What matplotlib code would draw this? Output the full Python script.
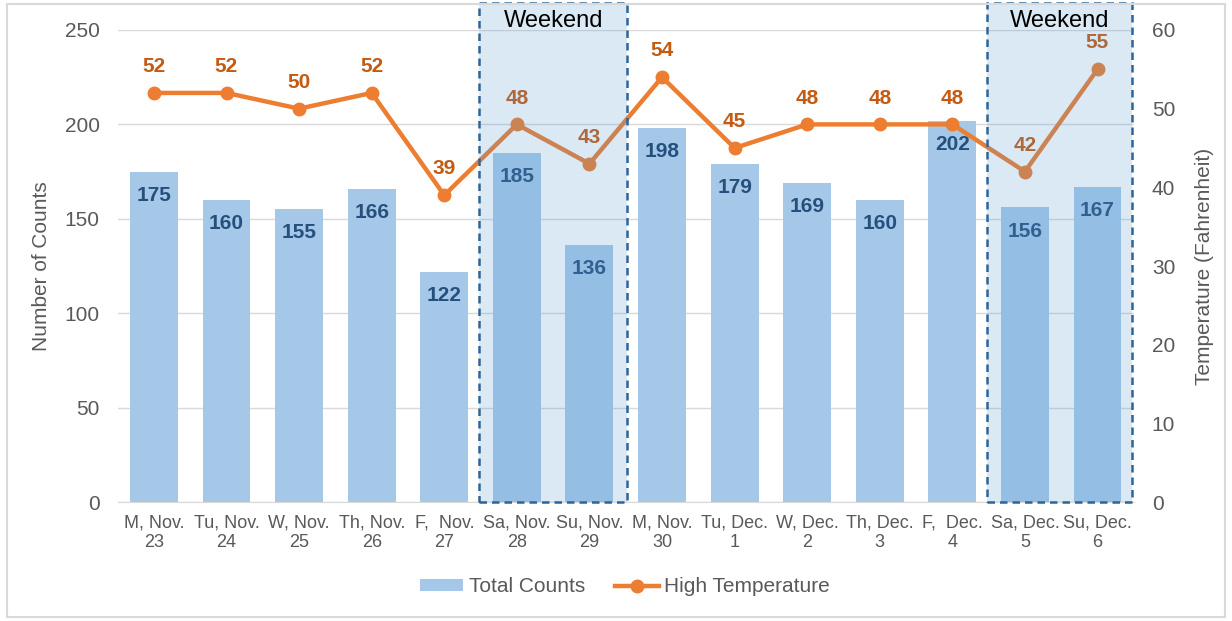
import matplotlib
matplotlib.use("Agg")
import matplotlib.pyplot as plt
from matplotlib.patches import Rectangle, Patch
from matplotlib.lines import Line2D

plt.rcParams['font.family'] = ['Liberation Sans', 'DejaVu Sans']

# data
days = ["M, Nov.\n23", "Tu, Nov.\n24", "W, Nov.\n25", "Th, Nov.\n26", "F,  Nov.\n27",
        "Sa, Nov.\n28", "Su, Nov.\n29", "M, Nov.\n30", "Tu, Dec.\n1", "W, Dec.\n2",
        "Th, Dec.\n3", "F,  Dec.\n4", "Sa, Dec.\n5", "Su, Dec.\n6"]
counts = [175, 160, 155, 166, 122, 185, 136, 198, 179, 169, 160, 202, 156, 167]
temps = [52, 52, 50, 52, 39, 48, 43, 54, 45, 48, 48, 48, 42, 55]
weekends = [(5, 6), (12, 13)]

gray = '#595959'
bar_col = '#A5C8E8'
line_col = '#ED7D31'

fig = plt.figure(figsize=(12.32, 6.21), dpi=100)
# outer border
fig.patches.append(Rectangle((0.006, 0.006), 0.988, 0.988, transform=fig.transFigure,
                             fill=False, edgecolor='#D9D9D9', lw=1.5))

ax = fig.add_axes([0.0955, 0.1916, 0.8248, 0.7601])
ax2 = ax.twinx()

x = list(range(len(days)))
ax.bar(x, counts, width=0.66, color=bar_col, zorder=2)
for i, c in enumerate(counts):
    ax.annotate(str(c), (i, c), xytext=(0, -17), textcoords='offset points',
                ha='center', va='center', fontsize=15, fontweight='bold',
                color='#25507D', zorder=3)

ax.set_xlim(-0.5, len(days) - 0.5)
ax.set_ylim(0, 250)
ax.set_yticks(range(0, 251, 50))
ax.yaxis.grid(True, color='#D9D9D9', lw=1)
ax.set_axisbelow(True)
for s in ['top', 'right', 'left']:
    ax.spines[s].set_visible(False)
ax.spines['bottom'].set_color('#D9D9D9')
ax.tick_params(axis='y', length=0, labelsize=15, labelcolor=gray, pad=13)
ax.tick_params(axis='x', length=0, labelsize=13, labelcolor=gray, pad=9)
ax.set_xticks(x)
ax.set_xticklabels(days, linespacing=1.2)
ax.set_ylabel("Number of Counts", fontsize=15, color=gray, labelpad=10)

ax2.plot(x, temps, color=line_col, lw=3.2, marker='o', markersize=9, zorder=4)
for i, t in enumerate(temps):
    ax2.annotate(str(t), (i, t), xytext=(0, 19), textcoords='offset points',
                 ha='center', va='center', fontsize=15, fontweight='bold',
                 color='#C55A11')
ax2.set_ylim(0, 60)
ax2.set_yticks(range(0, 61, 10))
for s in ax2.spines.values():
    s.set_visible(False)
ax2.tick_params(axis='y', length=0, labelsize=15, labelcolor=gray, pad=13)
ax2.set_ylabel("Temperature (Fahrenheit)", fontsize=15, color=gray, labelpad=14)

# weekend overlays
for a, b in weekends:
    left = a - 0.52
    right = min(b + 0.52, len(days) - 0.53)
    ax2.add_patch(Rectangle((left, 0), right - left, 63.4, facecolor='#5B9BD5',
                            alpha=0.22, edgecolor='none', zorder=6, clip_on=False))
    ax2.add_patch(Rectangle((left, 0), right - left, 63.4, facecolor='none',
                            edgecolor='#2E6599', lw=1.8, ls=(0, (3, 2)), zorder=7,
                            clip_on=False))
    ax2.text((left + right) / 2, 61.2, "Weekend", ha='center', va='center',
             fontsize=17, color='black', zorder=8)

handles = [Patch(facecolor=bar_col, label='Total Counts'),
           Line2D([], [], color=line_col, lw=3.2, marker='o', markersize=9,
                  label='High Temperature')]
fig.legend(handles=handles, loc='center', bbox_to_anchor=(0.507, 0.055), ncol=2,
           frameon=False, fontsize=15, labelcolor=gray, handlelength=2.1,
           handleheight=0.55, columnspacing=1.45, handletextpad=0.25)

fig.savefig("out.png", dpi=100)
